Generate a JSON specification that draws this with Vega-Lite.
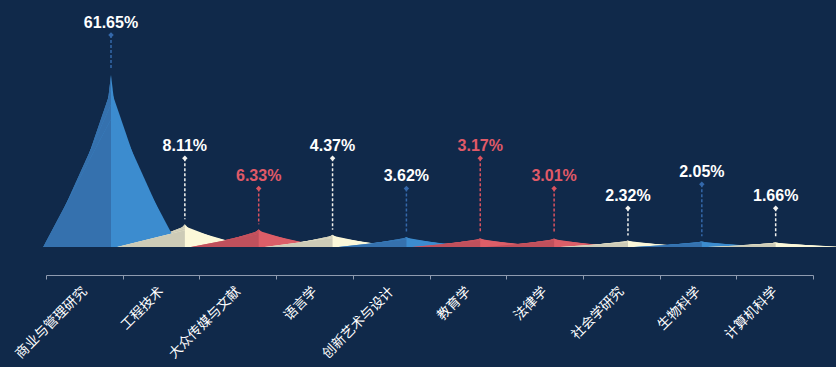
{
  "$schema": "https://vega.github.io/schema/vega-lite/v6.json",
  "width": 836,
  "height": 247,
  "autosize": {"type": "none"},
  "padding": {"top": 0, "left": 0, "right": 0, "bottom": 120},
  "background": "#10294a",
  "config": {"view": {"stroke": null}},
  "datasets": {
    "subjects": [
      {"学科": "商业与管理研究", "占比": 0.6165, "引线": 0.760, "色": "蓝"},
      {"学科": "工程技术", "占比": 0.0811, "引线": 0.318, "色": "米"},
      {"学科": "大众传媒与文献", "占比": 0.0633, "引线": 0.210, "色": "红"},
      {"学科": "语言学", "占比": 0.0437, "引线": 0.318, "色": "米"},
      {"学科": "创新艺术与设计", "占比": 0.0362, "引线": 0.210, "色": "蓝"},
      {"学科": "教育学", "占比": 0.0317, "引线": 0.318, "色": "红"},
      {"学科": "法律学", "占比": 0.0301, "引线": 0.210, "色": "红"},
      {"学科": "社会学研究", "占比": 0.0232, "引线": 0.139, "色": "米"},
      {"学科": "生物科学", "占比": 0.0205, "引线": 0.225, "色": "蓝"},
      {"学科": "计算机科学", "占比": 0.0166, "引线": 0.139, "色": "米"}
    ]
  },
  "layer": [
    {
      "data": {"name": "subjects"},
      "mark": {"type": "tick", "opacity": 0},
      "encoding": {
        "x": {"field": "学科", "type": "nominal",
          "scale": {"type": "band", "domain": ["商业与管理研究","工程技术","大众传媒与文献","语言学","创新艺术与设计","教育学","法律学","社会学研究","生物科学","计算机科学"], "range": [46, 813], "paddingInner": 0, "paddingOuter": 0},
          "axis": {"orient": "bottom", "offset": 28, "title": null, "labelAngle": -45, "labelAlign": "right", "labelBaseline": "middle", "labelColor": "#ffffff", "labelFont": "Noto Sans CJK SC", "labelFontSize": 13.5, "labelPadding": 10, "tickBand": "extent", "tickSize": 4, "tickColor": "#8f9bb0", "domainColor": "#8f9bb0", "grid": false, "labelOverlap": false}}
      }
    },
    {
      "data": {"name": "subjects"},
      "transform": [
        {"fold": ["占比"], "as": ["端", "值"]},
        {"impute": "值", "key": "端", "keyvals": ["前", "后"], "groupby": ["学科", "色"], "value": 0}
      ],
      "mark": {"type": "area", "interpolate": "linear"},
      "encoding": {
        "x": {"field": "学科", "type": "nominal", "scale": {"type": "band", "domain": ["商业与管理研究","工程技术","大众传媒与文献","语言学","创新艺术与设计","教育学","法律学","社会学研究","生物科学","计算机科学"], "range": [74.07, 812.6], "paddingInner": 0, "paddingOuter": 0}, "axis": null},
        "xOffset": {"field": "端", "type": "nominal", "scale": {"type": "point", "domain": ["前", "占比", "后"], "range": [16.53, 57.33], "padding": 0}},
        "y": {"field": "值", "type": "quantitative", "stack": null, "scale": {"domain": [0, 0.885], "nice": false, "zero": true}, "axis": null},
        "color": {"field": "色", "type": "nominal", "scale": {"domain": ["蓝", "米", "红"], "range": ["#3c8ccf", "#fcf8d9", "#dc5e68"]}, "legend": null},
        "detail": {"field": "学科"}
      }
    },
    {
      "data": {"name": "subjects"},
      "transform": [
        {"fold": ["占比"], "as": ["端", "值"]},
        {"impute": "值", "key": "端", "keyvals": ["前"], "groupby": ["学科", "色"], "value": 0}
      ],
      "mark": {"type": "area", "interpolate": "linear"},
      "encoding": {
        "x": {"field": "学科", "type": "nominal", "scale": {"type": "band", "domain": ["商业与管理研究","工程技术","大众传媒与文献","语言学","创新艺术与设计","教育学","法律学","社会学研究","生物科学","计算机科学"], "range": [74.07, 812.6], "paddingInner": 0, "paddingOuter": 0}, "axis": null},
        "xOffset": {"field": "端", "type": "nominal", "scale": {"type": "point", "domain": ["前", "占比"], "range": [16.53, 36.93], "padding": 0}},
        "y": {"field": "值", "type": "quantitative", "stack": null, "scale": {"domain": [0, 0.885], "nice": false, "zero": true}, "axis": null},
        "color": {"field": "色", "type": "nominal", "scale": {"domain": ["蓝", "米", "红"], "range": ["#3571ae", "#cdcbb7", "#c0505c"]}, "legend": null},
        "detail": {"field": "学科"}
      }
    },
    {
      "data": {"name": "subjects"},
      "transform": [
        {"fold": ["占比"], "as": ["端", "值"]},
        {"impute": "值", "key": "端", "keyvals": ["前", "后"], "groupby": ["学科", "色"], "value": 0}
      ],
      "mark": {"type": "area", "interpolate": "linear"},
      "encoding": {
        "x": {"field": "学科", "type": "nominal", "scale": {"type": "band", "domain": ["商业与管理研究","工程技术","大众传媒与文献","语言学","创新艺术与设计","教育学","法律学","社会学研究","生物科学","计算机科学"], "range": [74.07, 812.6], "paddingInner": 0, "paddingOuter": 0}, "axis": null},
        "xOffset": {"field": "端", "type": "nominal", "scale": {"type": "point", "domain": ["前", "占比", "后"], "range": [-16.84, 90.70], "padding": 0}},
        "y": {"field": "值", "type": "quantitative", "stack": null, "scale": {"domain": [0, 0.9681], "nice": false, "zero": true}, "axis": null},
        "color": {"field": "色", "type": "nominal", "scale": {"domain": ["蓝", "米", "红"], "range": ["#3c8ccf", "#fcf8d9", "#dc5e68"]}, "legend": null},
        "detail": {"field": "学科"}
      }
    },
    {
      "data": {"name": "subjects"},
      "transform": [
        {"fold": ["占比"], "as": ["端", "值"]},
        {"impute": "值", "key": "端", "keyvals": ["前"], "groupby": ["学科", "色"], "value": 0}
      ],
      "mark": {"type": "area", "interpolate": "linear"},
      "encoding": {
        "x": {"field": "学科", "type": "nominal", "scale": {"type": "band", "domain": ["商业与管理研究","工程技术","大众传媒与文献","语言学","创新艺术与设计","教育学","法律学","社会学研究","生物科学","计算机科学"], "range": [74.07, 812.6], "paddingInner": 0, "paddingOuter": 0}, "axis": null},
        "xOffset": {"field": "端", "type": "nominal", "scale": {"type": "point", "domain": ["前", "占比"], "range": [-16.84, 36.93], "padding": 0}},
        "y": {"field": "值", "type": "quantitative", "stack": null, "scale": {"domain": [0, 0.9681], "nice": false, "zero": true}, "axis": null},
        "color": {"field": "色", "type": "nominal", "scale": {"domain": ["蓝", "米", "红"], "range": ["#3571ae", "#cdcbb7", "#c0505c"]}, "legend": null},
        "detail": {"field": "学科"}
      }
    },
    {
      "data": {"name": "subjects"},
      "transform": [
        {"fold": ["占比"], "as": ["端", "值"]},
        {"impute": "值", "key": "端", "keyvals": ["前", "后"], "groupby": ["学科", "色"], "value": 0}
      ],
      "mark": {"type": "area", "interpolate": "linear"},
      "encoding": {
        "x": {"field": "学科", "type": "nominal", "scale": {"type": "band", "domain": ["商业与管理研究","工程技术","大众传媒与文献","语言学","创新艺术与设计","教育学","法律学","社会学研究","生物科学","计算机科学"], "range": [74.07, 812.6], "paddingInner": 0, "paddingOuter": 0}, "axis": null},
        "xOffset": {"field": "端", "type": "nominal", "scale": {"type": "point", "domain": ["前", "占比", "后"], "range": [-27.38, 101.24], "padding": 0}},
        "y": {"field": "值", "type": "quantitative", "stack": null, "scale": {"domain": [0, 1.0679], "nice": false, "zero": true}, "axis": null},
        "color": {"field": "色", "type": "nominal", "scale": {"domain": ["蓝", "米", "红"], "range": ["#3c8ccf", "#fcf8d9", "#dc5e68"]}, "legend": null},
        "detail": {"field": "学科"}
      }
    },
    {
      "data": {"name": "subjects"},
      "transform": [
        {"fold": ["占比"], "as": ["端", "值"]},
        {"impute": "值", "key": "端", "keyvals": ["前"], "groupby": ["学科", "色"], "value": 0}
      ],
      "mark": {"type": "area", "interpolate": "linear"},
      "encoding": {
        "x": {"field": "学科", "type": "nominal", "scale": {"type": "band", "domain": ["商业与管理研究","工程技术","大众传媒与文献","语言学","创新艺术与设计","教育学","法律学","社会学研究","生物科学","计算机科学"], "range": [74.07, 812.6], "paddingInner": 0, "paddingOuter": 0}, "axis": null},
        "xOffset": {"field": "端", "type": "nominal", "scale": {"type": "point", "domain": ["前", "占比"], "range": [-27.38, 36.93], "padding": 0}},
        "y": {"field": "值", "type": "quantitative", "stack": null, "scale": {"domain": [0, 1.0679], "nice": false, "zero": true}, "axis": null},
        "color": {"field": "色", "type": "nominal", "scale": {"domain": ["蓝", "米", "红"], "range": ["#3571ae", "#cdcbb7", "#c0505c"]}, "legend": null},
        "detail": {"field": "学科"}
      }
    },
    {
      "data": {"name": "subjects"},
      "transform": [
        {"fold": ["占比"], "as": ["端", "值"]},
        {"impute": "值", "key": "端", "keyvals": ["前", "后"], "groupby": ["学科", "色"], "value": 0}
      ],
      "mark": {"type": "area", "interpolate": "linear"},
      "encoding": {
        "x": {"field": "学科", "type": "nominal", "scale": {"type": "band", "domain": ["商业与管理研究","工程技术","大众传媒与文献","语言学","创新艺术与设计","教育学","法律学","社会学研究","生物科学","计算机科学"], "range": [74.07, 812.6], "paddingInner": 0, "paddingOuter": 0}, "axis": null},
        "xOffset": {"field": "端", "type": "nominal", "scale": {"type": "point", "domain": ["前", "占比", "后"], "range": [-30.87, 104.73], "padding": 0}},
        "y": {"field": "值", "type": "quantitative", "stack": null, "scale": {"domain": [0, 1.1911], "nice": false, "zero": true}, "axis": null},
        "color": {"field": "色", "type": "nominal", "scale": {"domain": ["蓝", "米", "红"], "range": ["#3c8ccf", "#fcf8d9", "#dc5e68"]}, "legend": null},
        "detail": {"field": "学科"}
      }
    },
    {
      "data": {"name": "subjects"},
      "transform": [
        {"fold": ["占比"], "as": ["端", "值"]},
        {"impute": "值", "key": "端", "keyvals": ["前"], "groupby": ["学科", "色"], "value": 0}
      ],
      "mark": {"type": "area", "interpolate": "linear"},
      "encoding": {
        "x": {"field": "学科", "type": "nominal", "scale": {"type": "band", "domain": ["商业与管理研究","工程技术","大众传媒与文献","语言学","创新艺术与设计","教育学","法律学","社会学研究","生物科学","计算机科学"], "range": [74.07, 812.6], "paddingInner": 0, "paddingOuter": 0}, "axis": null},
        "xOffset": {"field": "端", "type": "nominal", "scale": {"type": "point", "domain": ["前", "占比"], "range": [-30.87, 36.93], "padding": 0}},
        "y": {"field": "值", "type": "quantitative", "stack": null, "scale": {"domain": [0, 1.1911], "nice": false, "zero": true}, "axis": null},
        "color": {"field": "色", "type": "nominal", "scale": {"domain": ["蓝", "米", "红"], "range": ["#3571ae", "#cdcbb7", "#c0505c"]}, "legend": null},
        "detail": {"field": "学科"}
      }
    },
    {
      "data": {"name": "subjects"},
      "mark": {"type": "rule", "strokeDash": [3, 2], "strokeWidth": 1.5, "y2Offset": -5},
      "encoding": {
        "x": {"field": "学科", "type": "nominal", "scale": {"type": "band", "domain": ["商业与管理研究","工程技术","大众传媒与文献","语言学","创新艺术与设计","教育学","法律学","社会学研究","生物科学","计算机科学"], "range": [74.07, 812.6], "paddingInner": 0, "paddingOuter": 0}, "axis": null},
        "y": {"field": "引线", "type": "quantitative", "scale": {"domain": [0, 0.885], "nice": false, "zero": true}, "axis": null},
        "y2": {"field": "占比"},
        "color": {"field": "色", "type": "nominal", "scale": {"domain": ["蓝", "米", "红"], "range": ["#3468aa", "#f2f2ee", "#d9535f"]}, "legend": null}
      }
    },
    {
      "data": {"name": "subjects"},
      "mark": {"type": "point", "shape": "diamond", "filled": true, "size": 30, "opacity": 1},
      "encoding": {
        "x": {"field": "学科", "type": "nominal", "scale": {"type": "band", "domain": ["商业与管理研究","工程技术","大众传媒与文献","语言学","创新艺术与设计","教育学","法律学","社会学研究","生物科学","计算机科学"], "range": [74.07, 812.6], "paddingInner": 0, "paddingOuter": 0}, "axis": null},
        "y": {"field": "引线", "type": "quantitative", "scale": {"domain": [0, 0.885], "nice": false, "zero": true}, "axis": null},
        "color": {"field": "色", "type": "nominal", "scale": {"domain": ["蓝", "米", "红"], "range": ["#3468aa", "#f2f2ee", "#d9535f"]}, "legend": null}
      }
    },
    {
      "data": {"name": "subjects"},
      "mark": {"type": "text", "font": "Liberation Sans", "fontSize": 16, "fontWeight": "bold", "baseline": "alphabetic", "align": "center", "dy": -7},
      "encoding": {
        "x": {"field": "学科", "type": "nominal", "scale": {"type": "band", "domain": ["商业与管理研究","工程技术","大众传媒与文献","语言学","创新艺术与设计","教育学","法律学","社会学研究","生物科学","计算机科学"], "range": [74.07, 812.6], "paddingInner": 0, "paddingOuter": 0}, "axis": null},
        "y": {"field": "引线", "type": "quantitative", "scale": {"domain": [0, 0.885], "nice": false, "zero": true}, "axis": null},
        "text": {"field": "占比", "type": "quantitative", "format": ".2%"},
        "color": {"field": "色", "type": "nominal", "scale": {"domain": ["蓝", "米", "红"], "range": ["#ffffff", "#ffffff", "#e05a68"]}, "legend": null}
      }
    }
  ],
  "resolve": {"scale": {"x": "independent", "y": "independent", "color": "independent", "xOffset": "independent"}}
}
